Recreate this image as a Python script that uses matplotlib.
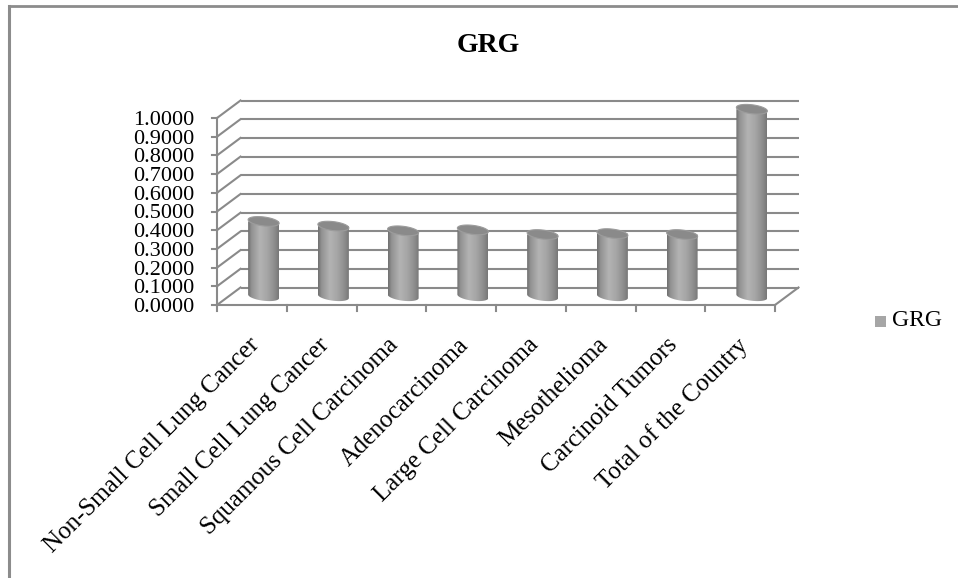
import numpy as np
import matplotlib
matplotlib.use("Agg")
import matplotlib.pyplot as plt
from matplotlib.patches import Polygon, Rectangle
from matplotlib.colors import LinearSegmentedColormap
from matplotlib.lines import Line2D

plt.rcParams["font.family"] = ["Liberation Serif", "DejaVu Serif"]

# ---- data -------------------------------------------------------------
categories = [
    "Non-Small Cell Lung Cancer",
    "Small Cell Lung Cancer",
    "Squamous Cell Carcinoma",
    "Adenocarcinoma",
    "Large Cell Carcinoma",
    "Mesothelioma",
    "Carcinoid Tumors",
    "Total of the Country",
]
grg_values = [0.40, 0.375, 0.35, 0.355, 0.33, 0.335, 0.33, 1.00]
y_ticks = [0.0, 0.1, 0.2, 0.3, 0.4, 0.5, 0.6, 0.7, 0.8, 0.9, 1.0]
y_tick_labels = [f"{t:.4f}" for t in y_ticks]
series_name = "GRG"
chart_title = "GRG"

# ---- figure / pseudo-3D frame ----------------------------------------
W, H, DPI = 958, 578, 100
fig = plt.figure(figsize=(W / DPI, H / DPI), dpi=DPI)
ax = fig.add_axes([0, 0, 1, 1])
ax.set_axis_off()

n = len(categories)
# plot frame in pixels: front-left x, front-right x, zero line y, top (1.0) y
px_left, px_right, px_zero, px_top = 217.0, 775.0, 305.0, 118.0
sx = n / (px_right - px_left)          # data units per pixel (x)
sy = 1.0 / (px_zero - px_top)          # data units per pixel (y)
xlim = (-px_left * sx, n + (W - px_right) * sx)
ylim = (-(H - px_zero) * sy, 1.0 + px_top * sy)

DX = 23.5 * sx      # depth offset of the back wall
DY = 17.5 * sy

grid_c = "#8a8a8a"
grid_lw = 1.5

# back-wall gridlines, side-wall diagonals, tick marks and labels
for t, lab in zip(y_ticks, y_tick_labels):
    ax.plot([DX, n + DX], [t + DY, t + DY], color=grid_c, lw=grid_lw, zorder=1,
            solid_capstyle="butt")
    ax.plot([0, DX], [t, t + DY], color=grid_c, lw=grid_lw, zorder=1)
    ax.plot([-5 * sx, 0], [t, t], color=grid_c, lw=grid_lw, zorder=1)
    ax.text(-23 * sx, t, lab, ha="right", va="center_baseline", fontsize=16,
            color="black")

# value axis line, floor front edge and right floor diagonal
ax.plot([0, 0], [0, 1.0], color=grid_c, lw=grid_lw, zorder=1)
ax.plot([0, n], [0, 0], color=grid_c, lw=grid_lw, zorder=1)
ax.plot([n, n + DX], [0, DY], color=grid_c, lw=grid_lw, zorder=1)
for i in range(n + 1):
    ax.plot([i, i], [0, -6 * sy], color=grid_c, lw=grid_lw, zorder=1)

# ---- cylinders --------------------------------------------------------
cyl_cmap = LinearSegmentedColormap.from_list(
    "cyl",
    [(0.0, "#6f6f6f"), (0.12, "#939393"), (0.38, "#b3b3b3"),
     (0.62, "#a6a6a6"), (0.85, "#8e8e8e"), (1.0, "#777777")],
)
grad = np.linspace(0, 1, 256).reshape(1, -1)

a = 15.5 * sx        # half width
b = 4.5 * sy         # half height of the end ellipses
tilt = 1.8 * sy      # right side of the ellipse sits a little higher
base = DY / 2
theta = np.linspace(np.pi, 2 * np.pi, 60)
t_full = np.linspace(0, 2 * np.pi, 90)

for i, v in enumerate(grg_values):
    cx = i + 0.5 + DX / 2
    top = v + DY / 2
    # body outline: sides plus rounded bottom
    bottom_x = cx + a * np.cos(theta)
    bottom_y = base + b * np.sin(theta) - tilt * np.cos(theta)
    verts = [(cx - a, top)] + list(zip(bottom_x, bottom_y)) + [(cx + a, top), (cx - a, top)]
    body = Polygon(verts, closed=True, facecolor="none", edgecolor="none")
    ax.add_patch(body)
    im = ax.imshow(grad, cmap=cyl_cmap, aspect="auto", interpolation="bilinear",
                   extent=(cx - a, cx + a, base - 2 * b, top + 2 * b), zorder=3)
    im.set_clip_path(body)
    # top cap
    cap = Polygon(list(zip(cx + a * np.cos(t_full),
                           top + b * np.sin(t_full) - tilt * np.cos(t_full))),
                  closed=True, facecolor="#8a8a8a", edgecolor="#9c9c9c",
                  lw=0.8, zorder=4)
    ax.add_patch(cap)

ax.set_xlim(*xlim)
ax.set_ylim(*ylim)

# ---- category labels --------------------------------------------------
for i, name in enumerate(categories):
    ax.text(i + 0.5 - 4 * sx, -29 * sy, name, rotation=45, rotation_mode="anchor",
            ha="right", va="top", fontsize=18, color="black")

# ---- title & legend ---------------------------------------------------
fig.text(488 / W, 1 - 45 / H, chart_title, ha="center", va="center",
         fontsize=20, fontweight="bold")
fig.patches.append(Rectangle((875 / W, 1 - 327 / H), 11 / W, 11 / H,
                             transform=fig.transFigure, facecolor="#a6a6a6",
                             edgecolor="none"))
fig.text(892 / W, 1 - 321 / H, series_name, ha="left", va="center", fontsize=17)

# ---- chart area border (left and top edges) ---------------------------
fig.lines.append(Line2D([9 / W, 9 / W], [0, 1 - 6 / H], transform=fig.transFigure,
                        color="#8c8c8c", lw=2.2))
fig.lines.append(Line2D([9 / W, 1], [1 - 6 / H, 1 - 6 / H], transform=fig.transFigure,
                        color="#8c8c8c", lw=2.0))

fig.savefig("out.png", dpi=DPI, facecolor="white")
